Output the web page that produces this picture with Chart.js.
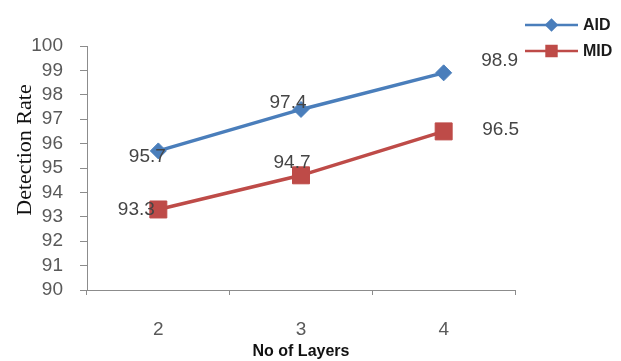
<!DOCTYPE html>
<html>
<head>
<meta charset="utf-8">
<script src="https://cdn.jsdelivr.net/npm/chart.js@4/dist/chart.umd.min.js"></script>
<style>
  html, body { margin: 0; padding: 0; background: #ffffff; }
  #wrap { width: 621px; height: 361px; }
</style>
</head>
<body>
<div id="wrap"><canvas id="c" width="621" height="361"></canvas></div>
<script>
// Detection rate by number of layers
const layers = ['2', '3', '4'];
const aidRate = [95.7, 97.4, 98.9];
const midRate = [93.3, 94.7, 96.5];
const seriesNames = ['AID', 'MID'];
const yTitle = 'Detection Rate';
const xTitle = 'No of Layers';

const AID_BLUE = '#4a7ebb';
const MID_RED = '#be4b48';
const AXIS_GREY = '#8c8c8c';
const LABEL_GREY = '#454545';
const TICK_GREY = '#595959';
const NUM_FONT = '"Liberation Sans", Arial, sans-serif';

// Value labels: offset of each label's centre from its point
const valueLabelOffsets = [
  [[-11, 6], [-13, -7], [56, -12]],
  [[-22, 0], [-9, -13], [57, -2]]
];

const valueLabels = {
  id: 'valueLabels',
  afterDatasetsDraw(chart) {
    const ctx = chart.ctx;
    ctx.save();
    ctx.font = '19px ' + NUM_FONT;
    ctx.fillStyle = LABEL_GREY;
    ctx.textAlign = 'center';
    ctx.textBaseline = 'middle';
    chart.data.datasets.forEach((ds, di) => {
      chart.getDatasetMeta(di).data.forEach((pt, i) => {
        const [dx, dy] = valueLabelOffsets[di][i];
        ctx.fillText(ds.data[i].toFixed(1), pt.x + dx, pt.y + dy);
      });
    });
    ctx.restore();
  }
};

// Legend in the top-right corner: line sample with its marker, then the name
const sideLegend = {
  id: 'sideLegend',
  afterDraw(chart) {
    const ctx = chart.ctx;
    const x0 = 525, x1 = 578, rows = [25, 51];
    ctx.save();
    chart.data.datasets.forEach((ds, i) => {
      const y = rows[i];
      ctx.strokeStyle = ds.borderColor;
      ctx.lineWidth = 2.5;
      ctx.beginPath();
      ctx.moveTo(x0, y);
      ctx.lineTo(x1, y);
      ctx.stroke();
      Chart.helpers.drawPoint(ctx, {
        pointStyle: ds.pointStyle,
        radius: i === 0 ? 5 : 7,
        borderWidth: 1
      }, (x0 + x1) / 2, y);
      ctx.fillStyle = ds.backgroundColor;
      ctx.fill();
      ctx.fillStyle = '#1a1a1a';
      ctx.font = 'bold 16px ' + NUM_FONT;
      ctx.textAlign = 'left';
      ctx.textBaseline = 'middle';
      ctx.fillText(ds.label, x1 + 5, y + 1);
    });
    ctx.restore();
  }
};

// Y-axis title set in a serif face, centred a little above the axis middle
const yAxisTitle = {
  id: 'yAxisTitle',
  afterDraw(chart) {
    const ctx = chart.ctx;
    ctx.save();
    ctx.translate(25, 150);
    ctx.rotate(-Math.PI / 2);
    ctx.font = '22px "Liberation Serif", "Times New Roman", serif';
    ctx.fillStyle = '#111111';
    ctx.textAlign = 'center';
    ctx.textBaseline = 'middle';
    ctx.fillText(yTitle, 0, 0);
    ctx.restore();
  }
};

new Chart(document.getElementById('c'), {
  type: 'line',
  data: {
    labels: layers,
    datasets: [
      {
        label: seriesNames[0],
        data: aidRate,
        borderColor: AID_BLUE,
        backgroundColor: AID_BLUE,
        borderWidth: 3.5,
        pointStyle: 'rectRot',
        pointRadius: 8,
        pointBorderWidth: 1,
        tension: 0
      },
      {
        label: seriesNames[1],
        data: midRate,
        borderColor: MID_RED,
        backgroundColor: MID_RED,
        borderWidth: 3.5,
        pointStyle: 'rect',
        pointRadius: 12,
        pointBorderWidth: 1,
        tension: 0
      }
    ]
  },
  options: {
    responsive: false,
    devicePixelRatio: 1,
    animation: false,
    layout: { padding: { left: 0, right: 106, top: 46, bottom: 0 } },
    plugins: {
      legend: { display: false },
      tooltip: { enabled: false }
    },
    scales: {
      x: {
        type: 'category',
        offset: true,
        grid: {
          offset: true,
          drawOnChartArea: false,
          drawTicks: true,
          tickLength: 5,
          color: AXIS_GREY
        },
        border: { color: AXIS_GREY, width: 1 },
        ticks: {
          color: TICK_GREY,
          font: { family: NUM_FONT, size: 19 },
          padding: 23,
          maxRotation: 0
        },
        title: {
          display: true,
          text: xTitle,
          color: '#111111',
          font: { family: NUM_FONT, size: 16, weight: 'bold' },
          padding: { top: 1, bottom: 0 }
        },
        afterFit(scale) { scale.height = 71; }
      },
      y: {
        min: 90,
        max: 100,
        grid: {
          drawOnChartArea: false,
          drawTicks: true,
          tickLength: 7,
          color: AXIS_GREY
        },
        border: { color: AXIS_GREY, width: 1 },
        ticks: {
          stepSize: 1,
          autoSkip: false,
          color: TICK_GREY,
          font: { family: NUM_FONT, size: 19 },
          padding: 17
        },
        afterFit(scale) { scale.width = 87; }
      }
    }
  },
  plugins: [valueLabels, sideLegend, yAxisTitle]
});
</script>
</body>
</html>
